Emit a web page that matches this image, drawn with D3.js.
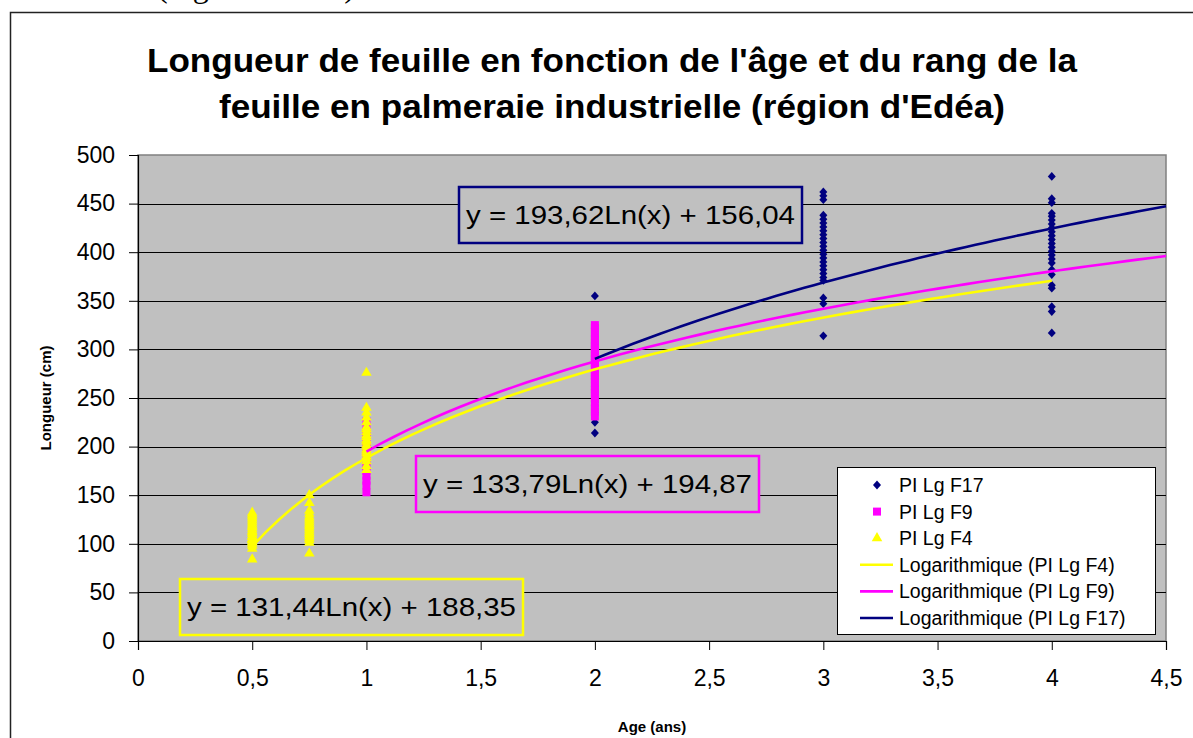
<!DOCTYPE html>
<html><head><meta charset="utf-8">
<script src="https://cdn.jsdelivr.net/npm/d3@7"></script>
<style>
html,body{margin:0;padding:0;background:#fff;overflow:hidden;}
svg{display:block;font-family:"Liberation Sans",Arial,Helvetica,sans-serif;}
</style></head>
<body>
<svg id="chart" width="1193" height="738"></svg>
<script>
// ---------- data ----------
const titleLines = ["Longueur de feuille en fonction de l'âge et du rang de la",
                    "feuille en palmeraie industrielle (région d'Edéa)"];
const xTicks = [0, 0.5, 1, 1.5, 2, 2.5, 3, 3.5, 4, 4.5];
const yTicks = [0, 50, 100, 150, 200, 250, 300, 350, 400, 450, 500];
const seriesNames = ["PI Lg F17", "PI Lg F9", "PI Lg F4"];
const seriesColors = ["#000080", "#FF00FF", "#FFFF00"];

// PI Lg F17 (diamonds)
const f17Ages = [2, 3, 4];
const f17Values = [
  [214, 225, 235, 242, 246, 250, 256, 262, 270, 278, 285, 290, 295, 300, 305, 313, 355],
  [314, 347, 353, 371, 374, 378, 382, 386, 390, 394, 398, 402, 406, 410, 414, 418, 422, 426, 430, 434, 438, 454, 458, 462],
  [317, 339, 344, 363, 366, 377, 382, 389, 393, 397, 401, 405, 409, 413, 417, 421, 425, 429, 433, 437, 440, 451, 455, 478]
];
// PI Lg F9 (squares)
const f9Ages = [1, 2];
const f9Values = [
  [153, 160, 165, 170, 175, 180, 185, 190, 195, 200, 205, 210, 215, 220, 226],
  [231, 236, 240, 245, 250, 255, 258, 262, 266, 270, 273, 276, 280, 283, 286, 290, 293, 296, 300, 303, 306, 310, 314, 318, 322, 325]
];
// PI Lg F4 (triangles)
const f4Ages = [0.5, 0.75, 1];
const f4Values = [
  [84, 95, 98, 100, 102, 104, 105, 107, 108, 110, 112, 113, 115, 117, 118, 120, 122, 124, 126, 128, 130, 132],
  [90, 101, 104, 106, 108, 110, 112, 114, 116, 118, 120, 122, 124, 126, 128, 131, 134, 142, 150],
  [176, 180, 185, 188, 190, 193, 195, 197, 200, 202, 205, 207, 210, 212, 215, 218, 220, 225, 230, 235, 240, 276]
];

// logarithmic trendlines y = a*ln(x) + b  (order: F4, F9, F17)
const trendNames = ["Logarithmique (PI Lg F4)", "Logarithmique (PI Lg F9)", "Logarithmique (PI Lg F17)"];
const trendColors = ["#FFFF00", "#FF00FF", "#000080"];
const trendA = [131.44, 133.79, 193.62];
const trendB = [188.35, 194.87, 156.04];
const trendFrom = [0.5, 1, 2];
const trendTo = [4, 4.5, 4.5];
const trendLabels = ["y = 131,44Ln(x) + 188,35", "y = 133,79Ln(x) + 194,87", "y = 193,62Ln(x) + 156,04"];
// label box anchors in data coordinates (x, y of top-left)
const labelBoxX = [0.186, 1.217, 1.405];
const labelBoxY = [64, 190, 467];

// ---------- layout ----------
const svg = d3.select("#chart");
const plot = {left: 138, right: 1166, top: 155, bottom: 641};
const x = d3.scaleLinear().domain([0, 4.5]).range([plot.left, plot.right]);
const y = d3.scaleLinear().domain([0, 500]).range([plot.bottom, plot.top]);

// cropped document text above the chart (only its lowest parts are visible)
svg.append("text").attr("x", 157).attr("y", -3)
  .attr("font-family", "'Liberation Serif','Times New Roman',serif").attr("font-size", 32)
  .attr("textLength", 198).attr("lengthAdjust", "spacingAndGlyphs")
  .text("(région d'Edéa)");

// outer chart frame
svg.append("rect").attr("x", 10.5).attr("y", 12.5).attr("width", 1200).attr("height", 800)
  .attr("fill", "#fff").attr("stroke", "#222").attr("stroke-width", 1.5);

// title
const titleW = [930, 786];
titleLines.forEach((t, i) => {
  svg.append("text").attr("x", 612).attr("y", 72 + i * 46)
    .attr("text-anchor", "middle").attr("font-weight", "bold").attr("font-size", 34)
    .attr("textLength", titleW[i]).attr("lengthAdjust", "spacingAndGlyphs")
    .text(t);
});

// plot area
svg.append("rect").attr("x", plot.left).attr("y", plot.top)
  .attr("width", plot.right - plot.left).attr("height", plot.bottom - plot.top)
  .attr("fill", "#C0C0C0").attr("stroke", "#808080").attr("stroke-width", 1.5);

// gridlines
svg.append("g").selectAll("line").data(yTicks.filter(v => v > 0 && v < 500)).join("line")
  .attr("x1", plot.left).attr("x2", plot.right)
  .attr("y1", d => Math.round(y(d)) + 0.5).attr("y2", d => Math.round(y(d)) + 0.5)
  .attr("stroke", "#000").attr("stroke-width", 1);

// axes
const yAxis = d3.axisLeft(y).tickValues(yTicks).tickSize(9).tickPadding(14)
  .tickFormat(d3.format("d"));
const gy = svg.append("g").attr("transform", `translate(${plot.left},0)`).call(yAxis);
gy.select(".domain").attr("stroke", "#000").attr("stroke-width", 1.2);
gy.selectAll(".tick line").attr("stroke", "#000");
gy.selectAll(".tick text").attr("font-size", 23).attr("fill", "#000")
  .attr("font-family", "'Liberation Sans',Arial,sans-serif");

const xAxis = d3.axisBottom(x).tickValues(xTicks).tickSize(9).tickPadding(20)
  .tickFormat(d => String(d).replace(".", ","));
const gx = svg.append("g").attr("transform", `translate(0,${plot.bottom})`).call(xAxis);
gx.select(".domain").attr("stroke", "#000").attr("stroke-width", 1.2);
gx.selectAll(".tick line").attr("stroke", "#000");
gx.selectAll(".tick text").attr("font-size", 23).attr("fill", "#000")
  .attr("font-family", "'Liberation Sans',Arial,sans-serif");

// axis titles
svg.append("text").attr("transform", `translate(51,${(plot.top + plot.bottom) / 2}) rotate(-90)`)
  .attr("text-anchor", "middle").attr("font-weight", "bold").attr("font-size", 15)
  .text("Longueur (cm)");
svg.append("text").attr("x", (plot.left + plot.right) / 2).attr("y", 732)
  .attr("text-anchor", "middle").attr("font-weight", "bold").attr("font-size", 15)
  .text("Age (ans)");

// markers
const rhombus = {draw(ctx) { ctx.moveTo(0, -4.4); ctx.lineTo(4, 0); ctx.lineTo(0, 4.4); ctx.lineTo(-4, 0); ctx.closePath(); }};
const sym = {
  diamond: d3.symbol().type(rhombus),
  square: d3.symbol().type(d3.symbolSquare).size(64),
  triangle: d3.symbol().type(d3.symbolTriangle).size(48)
};
function flatten(ages, vals) {
  const out = [];
  ages.forEach((a, i) => vals[i].forEach(v => out.push({a, v})));
  return out;
}
const gm = svg.append("g");
gm.selectAll(".d17").data(flatten(f17Ages, f17Values)).join("path")
  .attr("d", sym.diamond()).attr("fill", seriesColors[0])
  .attr("transform", d => `translate(${x(d.a)},${y(d.v)})`);
gm.selectAll(".d9").data(flatten(f9Ages, f9Values)).join("path")
  .attr("d", sym.square()).attr("fill", seriesColors[1])
  .attr("transform", d => `translate(${x(d.a)},${y(d.v)})`);
gm.selectAll(".d4").data(flatten(f4Ages, f4Values)).join("path")
  .attr("d", sym.triangle()).attr("fill", seriesColors[2])
  .attr("transform", d => `translate(${x(d.a)},${y(d.v)})`);

// trendlines
const line = d3.line().x(d => x(d[0])).y(d => y(d[1]));
trendA.forEach((a, i) => {
  const n = 60;
  const pts = d3.range(n + 1).map(k => {
    const xv = trendFrom[i] + (trendTo[i] - trendFrom[i]) * k / n;
    return [xv, a * Math.log(xv) + trendB[i]];
  });
  svg.append("path").datum(pts).attr("d", line)
    .attr("fill", "none").attr("stroke", trendColors[i]).attr("stroke-width", 2.6);
});

// equation labels
const boxW = 343, boxH = 56;
trendLabels.forEach((t, i) => {
  const bx = Math.round(x(labelBoxX[i])), by = Math.round(y(labelBoxY[i]));
  svg.append("rect").attr("x", bx).attr("y", by).attr("width", boxW).attr("height", boxH)
    .attr("fill", "#C0C0C0").attr("stroke", trendColors[i]).attr("stroke-width", 2.5);
  svg.append("text").attr("x", bx + 7).attr("y", by + 37)
    .attr("font-size", 26.5).attr("textLength", 329).attr("lengthAdjust", "spacingAndGlyphs")
    .text(t);
});

// legend
const lg = svg.append("g").attr("transform", "translate(837,467)");
lg.append("rect").attr("x", 0.5).attr("y", 0.5).attr("width", 318).attr("height", 167)
  .attr("fill", "#fff").attr("stroke", "#000").attr("stroke-width", 1);
const legendItems = [
  {name: seriesNames[0], kind: "diamond", color: seriesColors[0]},
  {name: seriesNames[1], kind: "square", color: seriesColors[1]},
  {name: seriesNames[2], kind: "triangle", color: seriesColors[2]},
  {name: trendNames[0], kind: "line", color: trendColors[0]},
  {name: trendNames[1], kind: "line", color: trendColors[1]},
  {name: trendNames[2], kind: "line", color: trendColors[2]}
];
legendItems.forEach((it, i) => {
  const cy = 18 + i * 26.6;
  if (it.kind === "line") {
    lg.append("line").attr("x1", 23).attr("x2", 56).attr("y1", cy).attr("y2", cy)
      .attr("stroke", it.color).attr("stroke-width", 2.6);
  } else {
    lg.append("path").attr("d", sym[it.kind]()).attr("fill", it.color)
      .attr("transform", `translate(40,${cy})`);
  }
  lg.append("text").attr("x", 62).attr("y", cy + 7).attr("font-size", 19.5).text(it.name);
});
</script>
</body></html>
